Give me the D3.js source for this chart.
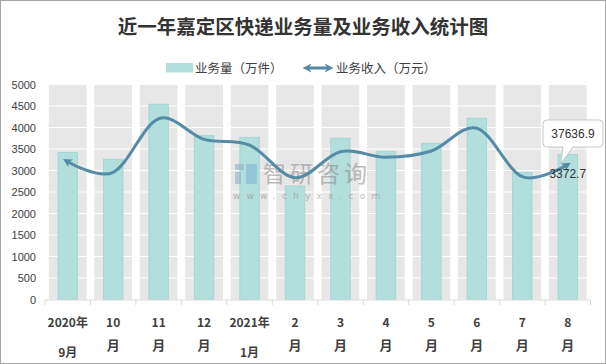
<!DOCTYPE html>
<html><head><meta charset="utf-8">
<script src="https://cdn.jsdelivr.net/npm/d3@7"></script>
<style>html,body{margin:0;padding:0;background:#fff;}svg{display:block;}</style>
</head><body>
<svg id="c" width="606" height="364"></svg>
<script>
const title = "近一年嘉定区快递业务量及业务收入统计图";
const catLine1 = ["2020年","10","11","12","2021年","2","3","4","5","6","7","8"];
const catLine2 = ["9月","月","月","月","1月","月","月","月","月","月","月","月"];
const volume = [3420, 3260, 4540, 3810, 3770, 2640, 3750, 3440, 3630, 4215, 2950, 3372.7];
const revenue = [38460, 35500, 50450, 44700, 43100, 34000, 41250, 39700, 41450, 47800, 34270, 37636.9];
const yTicks = [0,500,1000,1500,2000,2500,3000,3500,4000,4500,5000];
const legendNames = ["业务量（万件）","业务收入（万元）"];
const volLabel = "3372.7", revLabel = "37636.9";

const svg = d3.select("#c");
svg.append("rect").attr("x",0.5).attr("y",0.5).attr("width",605).attr("height",363)
  .attr("fill","#fff").attr("stroke","#a6a6a6");

const x = d3.scaleBand().domain(d3.range(12)).range([45,590.5]).paddingInner(0).paddingOuter(0);
const y = d3.scaleLinear().domain([0,5000]).range([299.5,84.5]);
const y2 = d3.scaleLinear().domain([0,60000]).range([299.5,84.5]);

svg.append("g").selectAll("rect").data(d3.range(12)).join("rect")
  .attr("x",i=>x(i)+x.bandwidth()*0.085).attr("width",x.bandwidth()*0.83)
  .attr("y",y(5000)).attr("height",y(0)-y(5000)).attr("fill","#e7e7e7");
svg.append("g").selectAll("line").data(yTicks.slice(1)).join("line")
  .attr("x1",45).attr("x2",590.5).attr("y1",d=>y(d)).attr("y2",d=>y(d))
  .attr("stroke","#fff").attr("stroke-width",1.2);

const yAxis = d3.axisLeft(y).tickValues(yTicks).tickFormat(d3.format("d")).tickSize(0).tickPadding(0);
const ya = svg.append("g").attr("transform","translate(36,0)").call(yAxis);
ya.select(".domain").remove();
ya.selectAll("text").attr("font-family","Liberation Sans, Arial, sans-serif").attr("font-size",11).attr("fill","#404040");

svg.append("g").selectAll("rect").data(volume).join("rect")
  .attr("x",(d,i)=>x(i)+x.bandwidth()/2-9.7).attr("width",19.4)
  .attr("y",d=>y(d)).attr("height",d=>y(0)-y(d))
  .attr("fill","#b2dfdb").attr("stroke","#a3d7d2").attr("stroke-width",1);

const wm = svg.append("g").attr("opacity",0.55);
wm.append("rect").attr("x",235).attr("y",164).attr("width",9).attr("height",6).attr("fill","#8fa9c8");
wm.append("rect").attr("x",235).attr("y",172).attr("width",6).attr("height",12).attr("fill","#8fa9c8");
wm.append("rect").attr("x",246).attr("y",164).attr("width",11).attr("height",20).attr("fill","#7fb2d6");
wm.append("text").attr("x",263).attr("y",182).text("智研咨询").attr("font-family","Noto Sans CJK SC")
  .attr("font-size",23).attr("fill","#8a8a8a").attr("letter-spacing",4);
wm.append("text").attr("x",233).attr("y",199).text("www.chyxx.com").attr("font-family","DejaVu Sans")
  .attr("font-size",9).attr("fill","#8a8a8a").attr("letter-spacing",6.2);

const lineColor = "#558ba4";
const defs = svg.append("defs");
defs.append("marker").attr("id","arrEnd").attr("viewBox","0 0 10 10").attr("refX",6).attr("refY",5)
  .attr("markerWidth",3).attr("markerHeight",3).attr("orient","auto")
  .append("path").attr("d","M0,0 L10,5 L0,10 L3,5 Z").attr("fill",lineColor);
defs.append("marker").attr("id","arrStart").attr("viewBox","0 0 10 10").attr("refX",4).attr("refY",5)
  .attr("markerWidth",3).attr("markerHeight",3).attr("orient","auto-start-reverse")
  .append("path").attr("d","M0,0 L10,5 L0,10 L3,5 Z").attr("fill",lineColor);
const line = d3.line().x((d,i)=>x(i)+x.bandwidth()/2).y(d=>y2(d)).curve(d3.curveCatmullRom.alpha(0));
svg.append("path").datum(revenue).attr("d",line).attr("fill","none").attr("stroke",lineColor)
  .attr("stroke-width",3).attr("marker-end","url(#arrEnd)").attr("marker-start","url(#arrStart)");

svg.append("line").attr("x1",45).attr("x2",590.5).attr("y1",300).attr("y2",300).attr("stroke","#d9d9d9");
svg.append("g").selectAll("line").data(d3.range(13)).join("line")
  .attr("x1",i=>45+i*x.step()).attr("x2",i=>45+i*x.step()).attr("y1",300).attr("y2",305).attr("stroke","#d9d9d9");
const xl = svg.append("g").attr("font-family","Noto Sans CJK SC").attr("font-weight","bold")
  .attr("font-size",12).attr("fill","#404040").attr("text-anchor","middle");
xl.selectAll("text.l1").data(catLine1).join("text").attr("class","l1")
  .attr("x",(d,i)=>x(i)+x.bandwidth()/2).attr("y",327).text(d=>d);
xl.selectAll("text.l2").data(catLine2).join("text").attr("class","l2")
  .attr("x",(d,i)=>x(i)+x.bandwidth()/2).attr("y",(d,i)=>catLine1[i].length>2?357:350)
  .attr("font-size",(d,i)=>catLine1[i].length>2?12:13).text(d=>d);

const lx = x(11)+x.bandwidth()/2;
svg.append("text").attr("x",lx).attr("y",177.5).attr("text-anchor","middle")
  .attr("font-family","Liberation Sans, Arial, sans-serif").attr("font-size",12).attr("fill","#333").text(volLabel);
const cx0=543, cy0=120, cw=60, ch=27;
svg.append("path").attr("d",`M${cx0+4},${cy0} H${cx0+cw-4} Q${cx0+cw},${cy0} ${cx0+cw},${cy0+4} V${cy0+ch-4} Q${cx0+cw},${cy0+ch} ${cx0+cw-4},${cy0+ch} H${cx0+30} L${lx-7},${y2(revenue[11])-1} L${cx0+20},${cy0+ch} H${cx0+4} Q${cx0},${cy0+ch} ${cx0},${cy0+ch-4} V${cy0+4} Q${cx0},${cy0} ${cx0+4},${cy0} Z`)
  .attr("fill","#fff").attr("stroke","#c8c8c8");
svg.append("text").attr("x",cx0+cw/2).attr("y",138).attr("text-anchor","middle")
  .attr("font-family","Liberation Sans, Arial, sans-serif").attr("font-size",12).attr("fill","#333").text(revLabel);

svg.append("text").attr("x",303).attr("y",34).attr("text-anchor","middle")
  .attr("font-family","Noto Sans CJK SC").attr("font-weight","bold").attr("font-size",19.5)
  .attr("fill","#333").text(title);

svg.append("rect").attr("x",166).attr("y",63).attr("width",27).attr("height",9.5).attr("fill","#b2dfdb");
svg.append("text").attr("x",195).attr("y",73).attr("font-family","Noto Sans CJK SC").attr("font-size",12.5)
  .attr("fill","#404040").text(legendNames[0]);
svg.append("line").attr("x1",308).attr("x2",330).attr("y1",68).attr("y2",68).attr("stroke",lineColor)
  .attr("stroke-width",3).attr("marker-end","url(#arrEnd)").attr("marker-start","url(#arrStart)");
svg.append("text").attr("x",336).attr("y",73).attr("font-family","Noto Sans CJK SC").attr("font-size",12.5)
  .attr("fill","#404040").text(legendNames[1]);
</script>
</body></html>
